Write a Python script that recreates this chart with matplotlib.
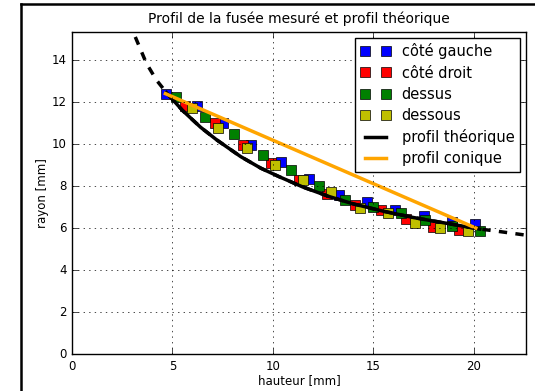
import numpy as np
import matplotlib
matplotlib.use("Agg")
import matplotlib.pyplot as plt
from matplotlib.lines import Line2D

plt.style.use("classic")

# -------------------------------------------------
# Data
# -------------------------------------------------
gauche_h = [4.7, 6.2, 7.5, 8.9, 10.4, 11.8, 13.3, 14.7, 16.1, 17.5, 18.9, 20.05]
gauche_r = [12.4, 11.8, 11.0, 9.95, 9.15, 8.35, 7.57, 7.25, 6.86, 6.55, 6.3, 6.17]

droit_h = [5.6, 7.1, 8.5, 9.9, 11.3, 12.7, 14.1, 15.4, 16.65, 17.97, 19.27]
droit_r = [11.8, 11.0, 9.95, 9.1, 8.3, 7.6, 7.1, 6.86, 6.41, 6.06, 5.9]

dessus_h = [5.2, 6.6, 8.05, 9.5, 10.9, 12.3, 13.6, 15.0, 16.4, 17.56, 18.9, 20.3]
dessus_r = [12.25, 11.3, 10.5, 9.5, 8.75, 8.0, 7.33, 7.0, 6.73, 6.37, 6.1, 5.86]

dessous_h = [5.95, 7.28, 8.7, 10.1, 11.5, 12.87, 14.33, 15.74, 17.06, 18.3, 19.7]
dessous_r = [11.7, 10.78, 9.8, 9.0, 8.29, 7.73, 6.95, 6.7, 6.25, 5.98, 5.86]

# theoretical profile, sampled along the drawn curve
theo_h = [3.15, 3.7, 4.2, 4.7, 5.5, 6.4, 7.2, 8.4, 9.4, 10.3, 11.5, 12.8,
          14.0, 15.5, 17.0, 18.5, 20.3, 21.0, 22.6]
theo_r = [15.1, 13.85, 13.05, 12.45, 11.6, 10.8, 10.2, 9.4, 8.85, 8.45, 7.95,
          7.5, 7.15, 6.8, 6.5, 6.25, 5.95, 5.87, 5.66]
solid_start, solid_end = 3, 16

cone_h = [4.65, 20.1]
cone_r = [12.4, 6.0]

# -------------------------------------------------
# Figure
# -------------------------------------------------
fig = plt.figure(figsize=(5.35, 3.91), dpi=100, facecolor="white")
ax = fig.add_axes([0.1346, 0.0946, 0.8486, 0.8243])

ms = 7.5
ax.plot(gauche_h, gauche_r, "s", color="b", ms=ms, label="côté gauche")
ax.plot(droit_h, droit_r, "s", color="r", ms=ms, label="côté droit")
ax.plot(dessus_h, dessus_r, "s", color="g", ms=ms, label="dessus")
ax.plot(dessous_h, dessous_r, "s", color="y", ms=ms, label="dessous")

ax.plot(theo_h, theo_r, "k--", lw=2.5)
ax.plot(theo_h[solid_start:solid_end + 1], theo_r[solid_start:solid_end + 1],
        "k-", lw=2.5, label="profil théorique")
ax.plot(cone_h, cone_r, "-", color="orange", lw=2.5, label="profil conique")

ax.set_xlim(0, 22.6)
ax.set_ylim(0, 15.35)
ax.set_xticks([0, 5, 10, 15, 20])
ax.set_yticks([0, 2, 4, 6, 8, 10, 12, 14])
ax.tick_params(labelsize=8.5)
ax.grid(True)

ax.set_title("Profil de la fusée mesuré et profil théorique", fontsize=10,
             y=1.005)
ax.set_xlabel("hauteur [mm]", fontsize=8.5, labelpad=1)
ax.set_ylabel("rayon [mm]", fontsize=8.5, labelpad=2)

ax.legend(loc="upper right", numpoints=2, fontsize=10.5, borderaxespad=0.4,
          labelspacing=0.42)

# frame of the original (cropped) figure
fig.add_artist(Line2D([21 / 535, 21 / 535], [0, 1 - 4 / 391],
                      transform=fig.transFigure, color="k", lw=1.8))
fig.add_artist(Line2D([21 / 535, 1], [1 - 4 / 391, 1 - 4 / 391],
                      transform=fig.transFigure, color="k", lw=1.8))

plt.savefig("out.png", dpi=100, facecolor="white")
plt.close()
